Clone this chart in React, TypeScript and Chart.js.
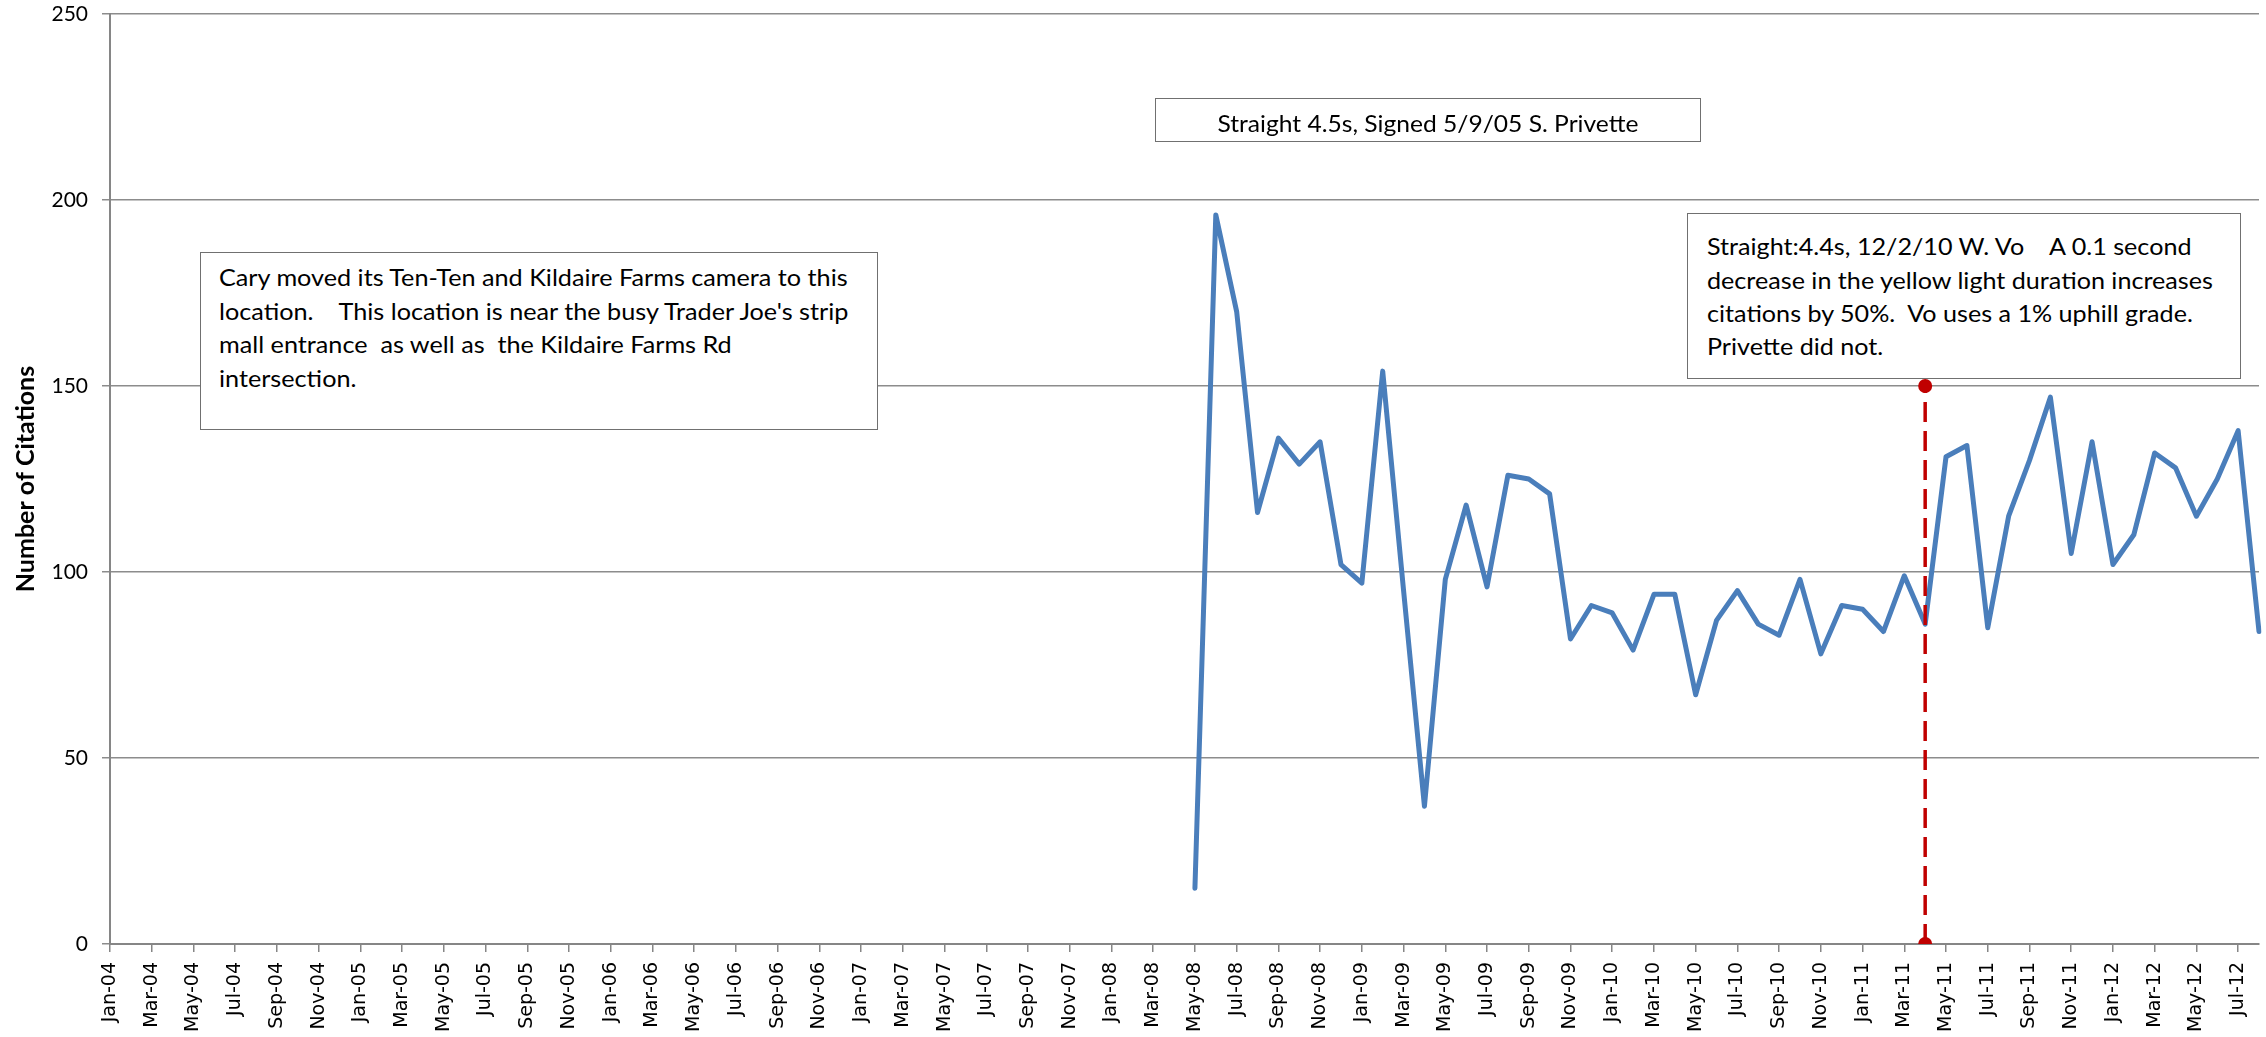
import React, { useEffect, useRef, useState } from 'react';
import { Chart, registerables } from 'chart.js';

Chart.register(...registerables);

// ---------- data ----------
const MONTH_NAMES = ['Jan', 'Feb', 'Mar', 'Apr', 'May', 'Jun', 'Jul', 'Aug', 'Sep', 'Oct', 'Nov', 'Dec'];
const YEARS = ['04', '05', '06', '07', '08', '09', '10', '11', '12'];
const LAST_CATEGORY = 'Aug-12';
const ALL_MONTHS = YEARS.flatMap((y) => MONTH_NAMES.map((m) => `${m}-${y}`));
const CATEGORIES = ALL_MONTHS.slice(0, ALL_MONTHS.indexOf(LAST_CATEGORY) + 1);

const CITATIONS_START = 'May-08';
const CITATIONS = [
  15, 196, 170, 116, 136, 129, 135, 102,
  97, 154, 95, 37, 98, 118, 96, 126, 125, 121, 82, 91,
  89, 79, 94, 94, 67, 87, 95, 86, 83, 98, 78, 91,
  90, 84, 99, 86, 131, 134, 85, 115, 130, 147, 105, 135,
  102, 110, 132, 128, 115, 125, 138, 84,
];

const MARKER_MONTH = 'Apr-11';
const MARKER_RANGE = [0, 150];

const Y_MIN = 0;
const Y_MAX = 250;
const Y_STEP = 50;
const Y_TITLE = 'Number of Citations';

const NOTE_CAMERA = [
  'Cary moved its Ten-Ten and Kildaire Farms camera to this',
  "location.    This location is near the busy Trader Joe's strip",
  'mall entrance  as well as  the Kildaire Farms Rd',
  'intersection.',
];
const NOTE_PRIVETTE = ['Straight 4.5s, Signed 5/9/05 S. Privette'];
const NOTE_VO = [
  'Straight:4.4s, 12/2/10 W. Vo    A 0.1 second',
  'decrease in the yellow light duration increases',
  'citations by 50%.  Vo uses a 1% uphill grade.',
  'Privette did not.',
];

// ---------- layout ----------
const W = 2266;
const H = 1037;
const BOX_FONT = 'Lato';
const BOX_FONT_SIZE = 23.5;

type BoxDef = {
  lines: string[];
  left: number;
  top: number;
  width: number;
  height: number;
  padLeft: number;
  baseline: number;
  gap: number;
  fitLine: number;
  fitWidth: number;
  center: boolean;
};

const BOXES: BoxDef[] = [
  { lines: NOTE_CAMERA, left: 200, top: 252, width: 678, height: 178, padLeft: 18, baseline: 34.5, gap: 33.5, fitLine: 0, fitWidth: 630, center: false },
  { lines: NOTE_PRIVETTE, left: 1155, top: 98, width: 546, height: 44, padLeft: 0, baseline: 34.4, gap: 0, fitLine: 0, fitWidth: 421, center: true },
  { lines: NOTE_VO, left: 1687, top: 213, width: 554, height: 166, padLeft: 18.6, baseline: 42.7, gap: 33.3, fitLine: 1, fitWidth: 507, center: false },
];

type Fit = { scale: number; ascent: number; descent: number };

export default function App() {
  const canvasRef = useRef<HTMLCanvasElement | null>(null);
  const [fits, setFits] = useState<Fit[] | null>(null);

  useEffect(() => {
    let chart: Chart | null = null;
    let cancelled = false;

    const build = () => {
      if (cancelled || !canvasRef.current) return;

      // horizontal compression so the wider Lato occupies Calibri's widths
      const mctx = document.createElement('canvas').getContext('2d')!;
      mctx.font = `${BOX_FONT_SIZE}px ${BOX_FONT}`;
      const f: Fit[] = BOXES.map((b) => {
        const m = mctx.measureText(b.lines[b.fitLine]);
        const ascent = (m as any).fontBoundingBoxAscent ?? BOX_FONT_SIZE * 0.987;
        const descent = (m as any).fontBoundingBoxDescent ?? BOX_FONT_SIZE * 0.213;
        return { scale: b.fitWidth / m.width, ascent, descent };
      });
      setFits(f);

      const startIdx = CATEGORIES.indexOf(CITATIONS_START);

      chart = new Chart(canvasRef.current, {
        type: 'line',
        data: {
          labels: CATEGORIES,
          datasets: [
            {
              label: 'Yellow change',
              data: MARKER_RANGE.map((y) => ({ x: MARKER_MONTH, y })) as any,
              borderColor: '#C00000',
              backgroundColor: '#C00000',
              borderWidth: 3.5,
              borderDash: [20, 9],
              pointRadius: 7,
              pointHoverRadius: 7,
              pointBackgroundColor: '#C00000',
              pointBorderWidth: 0,
              order: 0,
            },
            {
              label: 'Citations',
              data: CITATIONS.map((v, i) => ({ x: CATEGORIES[startIdx + i], y: v })) as any,
              borderColor: '#4A7EBB',
              backgroundColor: '#4A7EBB',
              borderWidth: 5,
              pointRadius: 0,
              pointHoverRadius: 0,
              tension: 0,
              borderJoinStyle: 'round',
              borderCapStyle: 'round',
              order: 1,
            },
          ],
        },
        options: {
          responsive: false,
          animation: false,
          devicePixelRatio: 1,
          events: [],
          layout: { padding: { top: 14, right: 5, left: 0, bottom: 0 } },
          plugins: { legend: { display: false }, tooltip: { enabled: false } },
          scales: {
            x: {
              type: 'category',
              offset: false,
              grid: {
                display: true,
                drawOnChartArea: false,
                drawTicks: true,
                tickLength: 8,
                color: '#868686',
                lineWidth: 1.5,
              },
              border: { display: true, color: '#868686', width: 2 },
              ticks: {
                autoSkip: false,
                maxRotation: 90,
                minRotation: 90,
                padding: 10,
                color: '#000000',
                font: { family: 'DejaVu Sans', size: 19 },
                callback: (_v: any, i: number) => (i % 2 === 0 ? CATEGORIES[i] : null),
              },
              afterFit: (s: any) => {
                s.height = 93;
                s.paddingLeft = 0;
                s.paddingRight = 0;
              },
            },
            y: {
              min: Y_MIN,
              max: Y_MAX,
              ticks: {
                stepSize: Y_STEP,
                padding: 14,
                color: '#000000',
                font: { family: 'Lato', size: 21 },
              },
              grid: { color: '#8c8c8c', lineWidth: 1.5, tickLength: 8, drawTicks: true },
              border: { color: '#868686', width: 2 },
              title: {
                display: true,
                text: Y_TITLE,
                color: '#000000',
                font: { family: 'Lato', size: 25, weight: 'bold' },
                padding: { top: 11, bottom: 0 },
              },
              afterFit: (s: any) => {
                s.width = 110;
                s.paddingTop = 0;
                s.paddingBottom = 0;
              },
            },
          },
        },
      });
    };

    const fontsReady = (document as any).fonts
      ? Promise.all([
          document.fonts.load(`21px Lato`),
          document.fonts.load(`bold 25px Lato`),
          document.fonts.load(`19px "DejaVu Sans"`),
        ]).catch(() => null)
      : Promise.resolve(null);
    fontsReady.then(build);

    return () => {
      cancelled = true;
      if (chart) chart.destroy();
    };
  }, []);

  return (
    <div
      style={{
        position: 'fixed',
        left: 0,
        top: 0,
        width: W,
        height: H,
        background: '#ffffff',
        overflow: 'hidden',
      }}
    >
      <canvas
        ref={canvasRef}
        width={W}
        height={H}
        style={{ position: 'absolute', left: 0, top: 0, width: W, height: H }}
      />
      {fits &&
        BOXES.map((b, bi) => {
          const fit = fits[bi];
          return (
            <div
              key={bi}
              style={{
                position: 'absolute',
                left: b.left,
                top: b.top,
                width: b.width,
                height: b.height,
                boxSizing: 'border-box',
                border: '1.5px solid #707070',
                background: '#ffffff',
              }}
            >
              {b.lines.map((line, li) => (
                <div
                  key={li}
                  style={{
                    position: 'absolute',
                    left: b.center ? 0 : b.padLeft,
                    width: b.center ? '100%' : undefined,
                    textAlign: b.center ? 'center' : 'left',
                    top: b.baseline + li * b.gap - fit.ascent - 1.5,
                    fontFamily: BOX_FONT,
                    fontSize: BOX_FONT_SIZE,
                    lineHeight: `${fit.ascent + fit.descent}px`,
                    whiteSpace: 'pre',
                    color: '#000000',
                    transform: `scaleX(${fit.scale})`,
                    transformOrigin: b.center ? '50% 50%' : '0 50%',
                  }}
                >
                  {line}
                </div>
              ))}
            </div>
          );
        })}
    </div>
  );
}
